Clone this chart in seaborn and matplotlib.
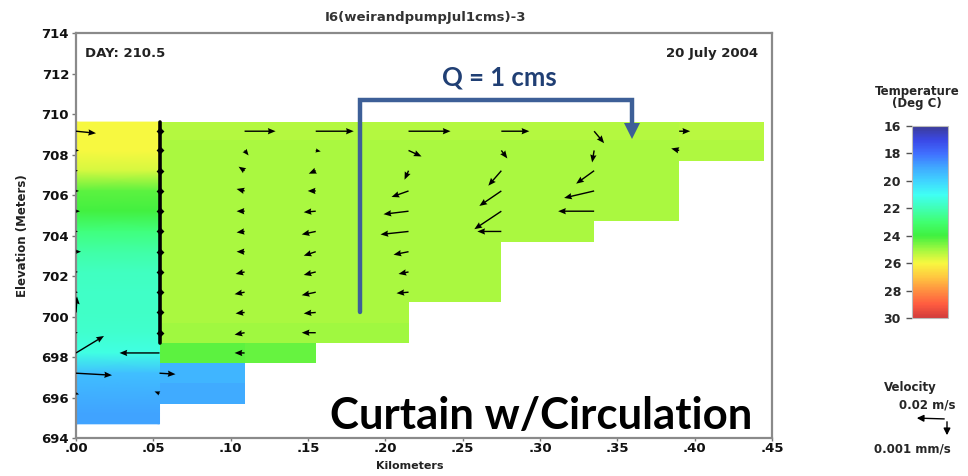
import numpy as np
import matplotlib
matplotlib.use("Agg")
import matplotlib.pyplot as plt
from matplotlib.colors import LinearSegmentedColormap, Normalize
from matplotlib.ticker import FuncFormatter
import seaborn as sns

# ---------------- data ----------------
title = "I6(weirandpumpJul1cms)-3"
day_text = "DAY: 210.5"
date_text = "20 July 2004"

# segment (column) edges in km, layer edges in m
seg_edges_km = [0.0, 0.054, 0.109, 0.155, 0.215, 0.275, 0.335, 0.390, 0.445]
layer_edges_m = [709.6, 708.7, 707.7, 706.7, 705.7, 704.7, 703.7, 702.7,
                 701.7, 700.7, 699.7, 698.7, 697.7, 696.7, 695.7, 694.7]

# temperature (deg C) per segment, listed from the surface layer downward
seg1_temp = [26.0, 26.0, 25.6, 24.3, 24.0, 22.8, 22.2, 21.8, 21.7, 21.7, 21.6, 21.3, 19.5, 19.2, 18.9]
seg2_temp = [25.2, 25.1, 25.1, 25.1, 25.1, 25.1, 25.1, 25.1, 25.1, 25.1, 25.0, 24.3, 19.3, 19.1]
seg3_temp = [25.2, 25.1, 25.1, 25.1, 25.1, 25.1, 25.1, 25.1, 25.1, 25.1, 25.0, 24.4]
seg4_temp = [25.2, 25.1, 25.1, 25.1, 25.1, 25.1, 25.1, 25.1, 25.1, 25.1, 25.0]
seg5_temp = [25.2, 25.1, 25.1, 25.1, 25.1, 25.1, 25.1, 25.1, 25.1]
seg6_temp = [25.2, 25.1, 25.1, 25.1, 25.1, 25.1]
seg7_temp = [25.2, 25.1, 25.1, 25.1, 25.1]
seg8_temp = [25.25, 25.15]
seg_temps = [seg1_temp, seg2_temp, seg3_temp, seg4_temp,
             seg5_temp, seg6_temp, seg7_temp, seg8_temp]

# velocity arrows at the segment faces (index into seg_edges_km),
# components in screen-scaled units, listed from the surface layer down
face0_u = [20, 3, 2, 3, 4, 2, 5, 2, 2, 1, 2, 28, 36, 3]
face0_w = [-2, 0, 0, 0, 0, 0, 0, 0, 0, 16, 0, 17, -2, -1]
face1_u = [0, 0, 0, 0, 0, 0, 0, 0, 0, 0, 0, -40, 16, -5]
face1_w = [3, -3, 3, -3, 3, -3, 3, -3, 3, -3, 3, 0, -1, 2]
face2_u = [31, 4, -6, -8, -8, -8, -8, -9, -10, -9, -10, -10]
face2_w = [0, -5, 4, 2, 0, -1, 0, -2, -2, -1, -2, 0]
face3_u = [38, 5, -7, -8, -12, -14, -12, -12, -14, -12, -14]
face3_w = [0, -1, -3, 0, -1, -3, -4, -3, -3, -1, 0]
face4_u = [42, 13, -4, -17, -25, -28, -15, -10, -12]
face4_w = [0, -6, -9, -6, -3, -3, -3, -2, -1]
face5_u = [28, 6, -13, -22, -27, -24]
face5_w = [0, -8, -15, -15, -18, 0]
face6_u = [10, -2, -18, -30, -36]
face6_w = [-12, -12, -13, -7, 0]
face7_u = [11, -8]
face7_w = [0, 2]
faces_u = [face0_u, face1_u, face2_u, face3_u, face4_u, face5_u, face6_u, face7_u]
faces_w = [face0_w, face1_w, face2_w, face3_w, face4_w, face5_w, face6_w, face7_w]

# curtain and pump line
curtain_km = 0.054
curtain_top_m = 709.6
curtain_bottom_m = 698.7
pipe_x_km = [0.1836, 0.1836, 0.3595, 0.3595]
pipe_z_m = [700.2, 710.7, 710.7, 709.3]
pump_label = "Q = 1 cms"
scenario_label = "Curtain w/Circulation"

x_ticks = [0.00, 0.05, 0.10, 0.15, 0.20, 0.25, 0.30, 0.35, 0.40, 0.45]
y_ticks = [694, 696, 698, 700, 702, 704, 706, 708, 710, 712, 714]
cbar_ticks = [16, 18, 20, 22, 24, 26, 28, 30]

# ---------------- style ----------------
sns.set_theme(style="white")
plt.rcParams["font.family"] = ["DejaVu Sans"]

temp_nodes = [16, 17, 18, 19, 20, 21, 22, 23, 24, 25, 26, 27, 28, 29, 30]
temp_colors = ["#3c3c98", "#3a48e6", "#4070ff", "#40a8ff", "#40d4ff", "#40fff4",
               "#40ffb4", "#40ff70", "#40f040", "#a0f840", "#f8f840", "#ffc840",
               "#ff9040", "#ff5c40", "#d23c3c"]
cmap = LinearSegmentedColormap.from_list(
    "temp", [((t - 16) / 14, c) for t, c in zip(temp_nodes, temp_colors)])
norm = Normalize(16, 30)

W, H = 968, 476
fig = plt.figure(figsize=(W / 100, H / 100), dpi=100)
fig.patch.set_facecolor("white")
ax = fig.add_axes([76 / W, 1 - 438 / H, (772 - 76) / W, (438 - 33) / H])

# temperature cells
lay_edges = np.array(layer_edges_m)
lay_centers = (lay_edges[:-1] + lay_edges[1:]) / 2
nlay = len(layer_edges_m) - 1
nseg = len(seg_edges_km) - 1
C = np.full((nlay, nseg), np.nan)
for j, temps in enumerate(seg_temps):
    C[:len(temps), j] = temps
ax.pcolormesh(np.array(seg_edges_km), lay_edges,
              np.ma.masked_invalid(C), cmap=cmap, norm=norm, shading="flat")

# smooth vertical shading in the first (upstream) segment
t1 = np.array(seg1_temp)
zn = np.concatenate([[lay_edges[0]], lay_centers[:len(t1)], [lay_edges[len(t1)]]])
cn = np.concatenate([[t1[0]], t1, [t1[-1]]])
Xg, Zg = np.meshgrid(seg_edges_km[:2], zn)
Cg = np.column_stack([cn, cn])
ax.pcolormesh(Xg, Zg, Cg, cmap=cmap, norm=norm, shading="gouraud", zorder=1.5)

# velocity arrows
qx, qz, qu, qw = [], [], [], []
for f, (us, ws) in enumerate(zip(faces_u, faces_w)):
    for k, (u, w) in enumerate(zip(us, ws)):
        if u == 0 and w == 0:
            continue
        qx.append(seg_edges_km[f])
        qz.append(lay_centers[k])
        qu.append(u)
        qw.append(w)
ax.quiver(qx, qz, qu, qw, angles="uv", scale_units="dots", scale=1,
          units="dots", width=1.4, headwidth=4.5, headlength=5.5,
          headaxislength=5, color="black", pivot="tail", zorder=4)

# curtain
sns.lineplot(x=[curtain_km, curtain_km], y=[curtain_bottom_m, curtain_top_m],
             color="black", linewidth=2.6, ax=ax, zorder=5, estimator=None, sort=False)
n_cur = int(np.sum(lay_centers > curtain_bottom_m))
sns.scatterplot(x=[curtain_km] * n_cur, y=lay_centers[:n_cur], marker="D", s=16,
                color="black", ax=ax, zorder=6, linewidth=0)

# pump pipe
pipe_col = "#3d5f97"
ax.plot(pipe_x_km, pipe_z_m, color=pipe_col, linewidth=3.2, solid_joinstyle="miter",
        zorder=7)
ax.plot([pipe_x_km[-1]], [pipe_z_m[-1] - 0.15], marker="v", markersize=11,
        color=pipe_col, zorder=7, markeredgewidth=0)
ax.text(0.274, 711.8, pump_label, color="#203f74", fontsize=18.5, fontweight="bold",
        family=["Lato", "DejaVu Sans"], ha="center", va="center", zorder=8)

ax.text(0.437, 695.1, scenario_label, color="black", fontsize=31.5, fontweight="bold",
        family=["Lato", "DejaVu Sans"], ha="right", va="center", zorder=8)

ax.text(0.006, 713.0, day_text, fontsize=9.5, fontweight="bold", ha="left",
        va="center", color="#222222")
ax.text(0.441, 713.0, date_text, fontsize=9.5, fontweight="bold", ha="right",
        va="center", color="#222222")

# axes cosmetics
ax.set_xlim(0, 0.45)
ax.set_ylim(694, 714)
ax.set_xticks(x_ticks)
ax.set_yticks(y_ticks)
ax.xaxis.set_major_formatter(FuncFormatter(lambda v, p: f"{v:.2f}".lstrip("0")))
ax.tick_params(axis="both", which="major", direction="out", length=3, width=1,
               color="#777777", labelsize=9.5, pad=2)
for lab in ax.get_xticklabels() + ax.get_yticklabels():
    lab.set_fontweight("bold")
    lab.set_color("#111111")
ax.tick_params(axis="x", length=2, pad=1)
ax.tick_params(axis="y", left=True)
ax.tick_params(axis="x", bottom=True)
for s in ax.spines.values():
    s.set_color("#8a8a8a")
    s.set_linewidth(1.6)
ax.set_ylabel("Elevation (Meters)", fontsize=8.5, fontweight="bold", color="#222222")
ax.yaxis.set_label_coords(-0.068, 0.5)
ax.set_xlabel("Kilometers", fontsize=8, fontweight="bold", color="#222222")
ax.xaxis.set_label_coords(0.48, -0.056)
fig.text(425 / W, 1 - 17 / H, title, fontsize=9.5, fontweight="bold", ha="center",
         va="center", color="#333333")

# colorbar
cax = fig.add_axes([912 / W, 1 - 318 / H, 36 / W, (318 - 126) / H])
sm = plt.cm.ScalarMappable(norm=norm, cmap=cmap)
cb = fig.colorbar(sm, cax=cax, ticks=cbar_ticks)
cax.invert_yaxis()
cax.yaxis.set_ticks_position("left")
cax.tick_params(length=4, width=1, color="#555555", labelsize=9, pad=4)
for lab in cax.get_yticklabels():
    lab.set_fontweight("bold")
cb.outline.set_edgecolor("#bbbbbb")
cb.outline.set_linewidth(0.8)
fig.text(917 / W, 1 - 91 / H, "Temperature", fontsize=8.5, fontweight="bold",
         ha="center", va="center")
fig.text(917 / W, 1 - 104 / H, "(Deg C)", fontsize=8.5, fontweight="bold",
         ha="center", va="center")

# velocity legend
fig.text(910 / W, 1 - 388 / H, "Velocity", fontsize=8.5, fontweight="bold",
         ha="center", va="center")
fig.text(927 / W, 1 - 405 / H, "0.02 m/s", fontsize=8.5, fontweight="bold",
         ha="center", va="center")
fig.text(912 / W, 1 - 449 / H, "0.001 mm/s", fontsize=8.5, fontweight="bold",
         ha="center", va="center")
fig.patches.append(matplotlib.patches.FancyArrowPatch(
    (947 / W, 1 - 419 / H), (914 / W, 1 - 418 / H), transform=fig.transFigure,
    arrowstyle="-|>,head_length=4,head_width=2", color="black", lw=1.0))
fig.patches.append(matplotlib.patches.FancyArrowPatch(
    (947 / W, 1 - 419 / H), (947 / W, 1 - 438 / H), transform=fig.transFigure,
    arrowstyle="-|>,head_length=4,head_width=2", color="black", lw=1.0))

fig.savefig("out.png", dpi=100, facecolor="white")
